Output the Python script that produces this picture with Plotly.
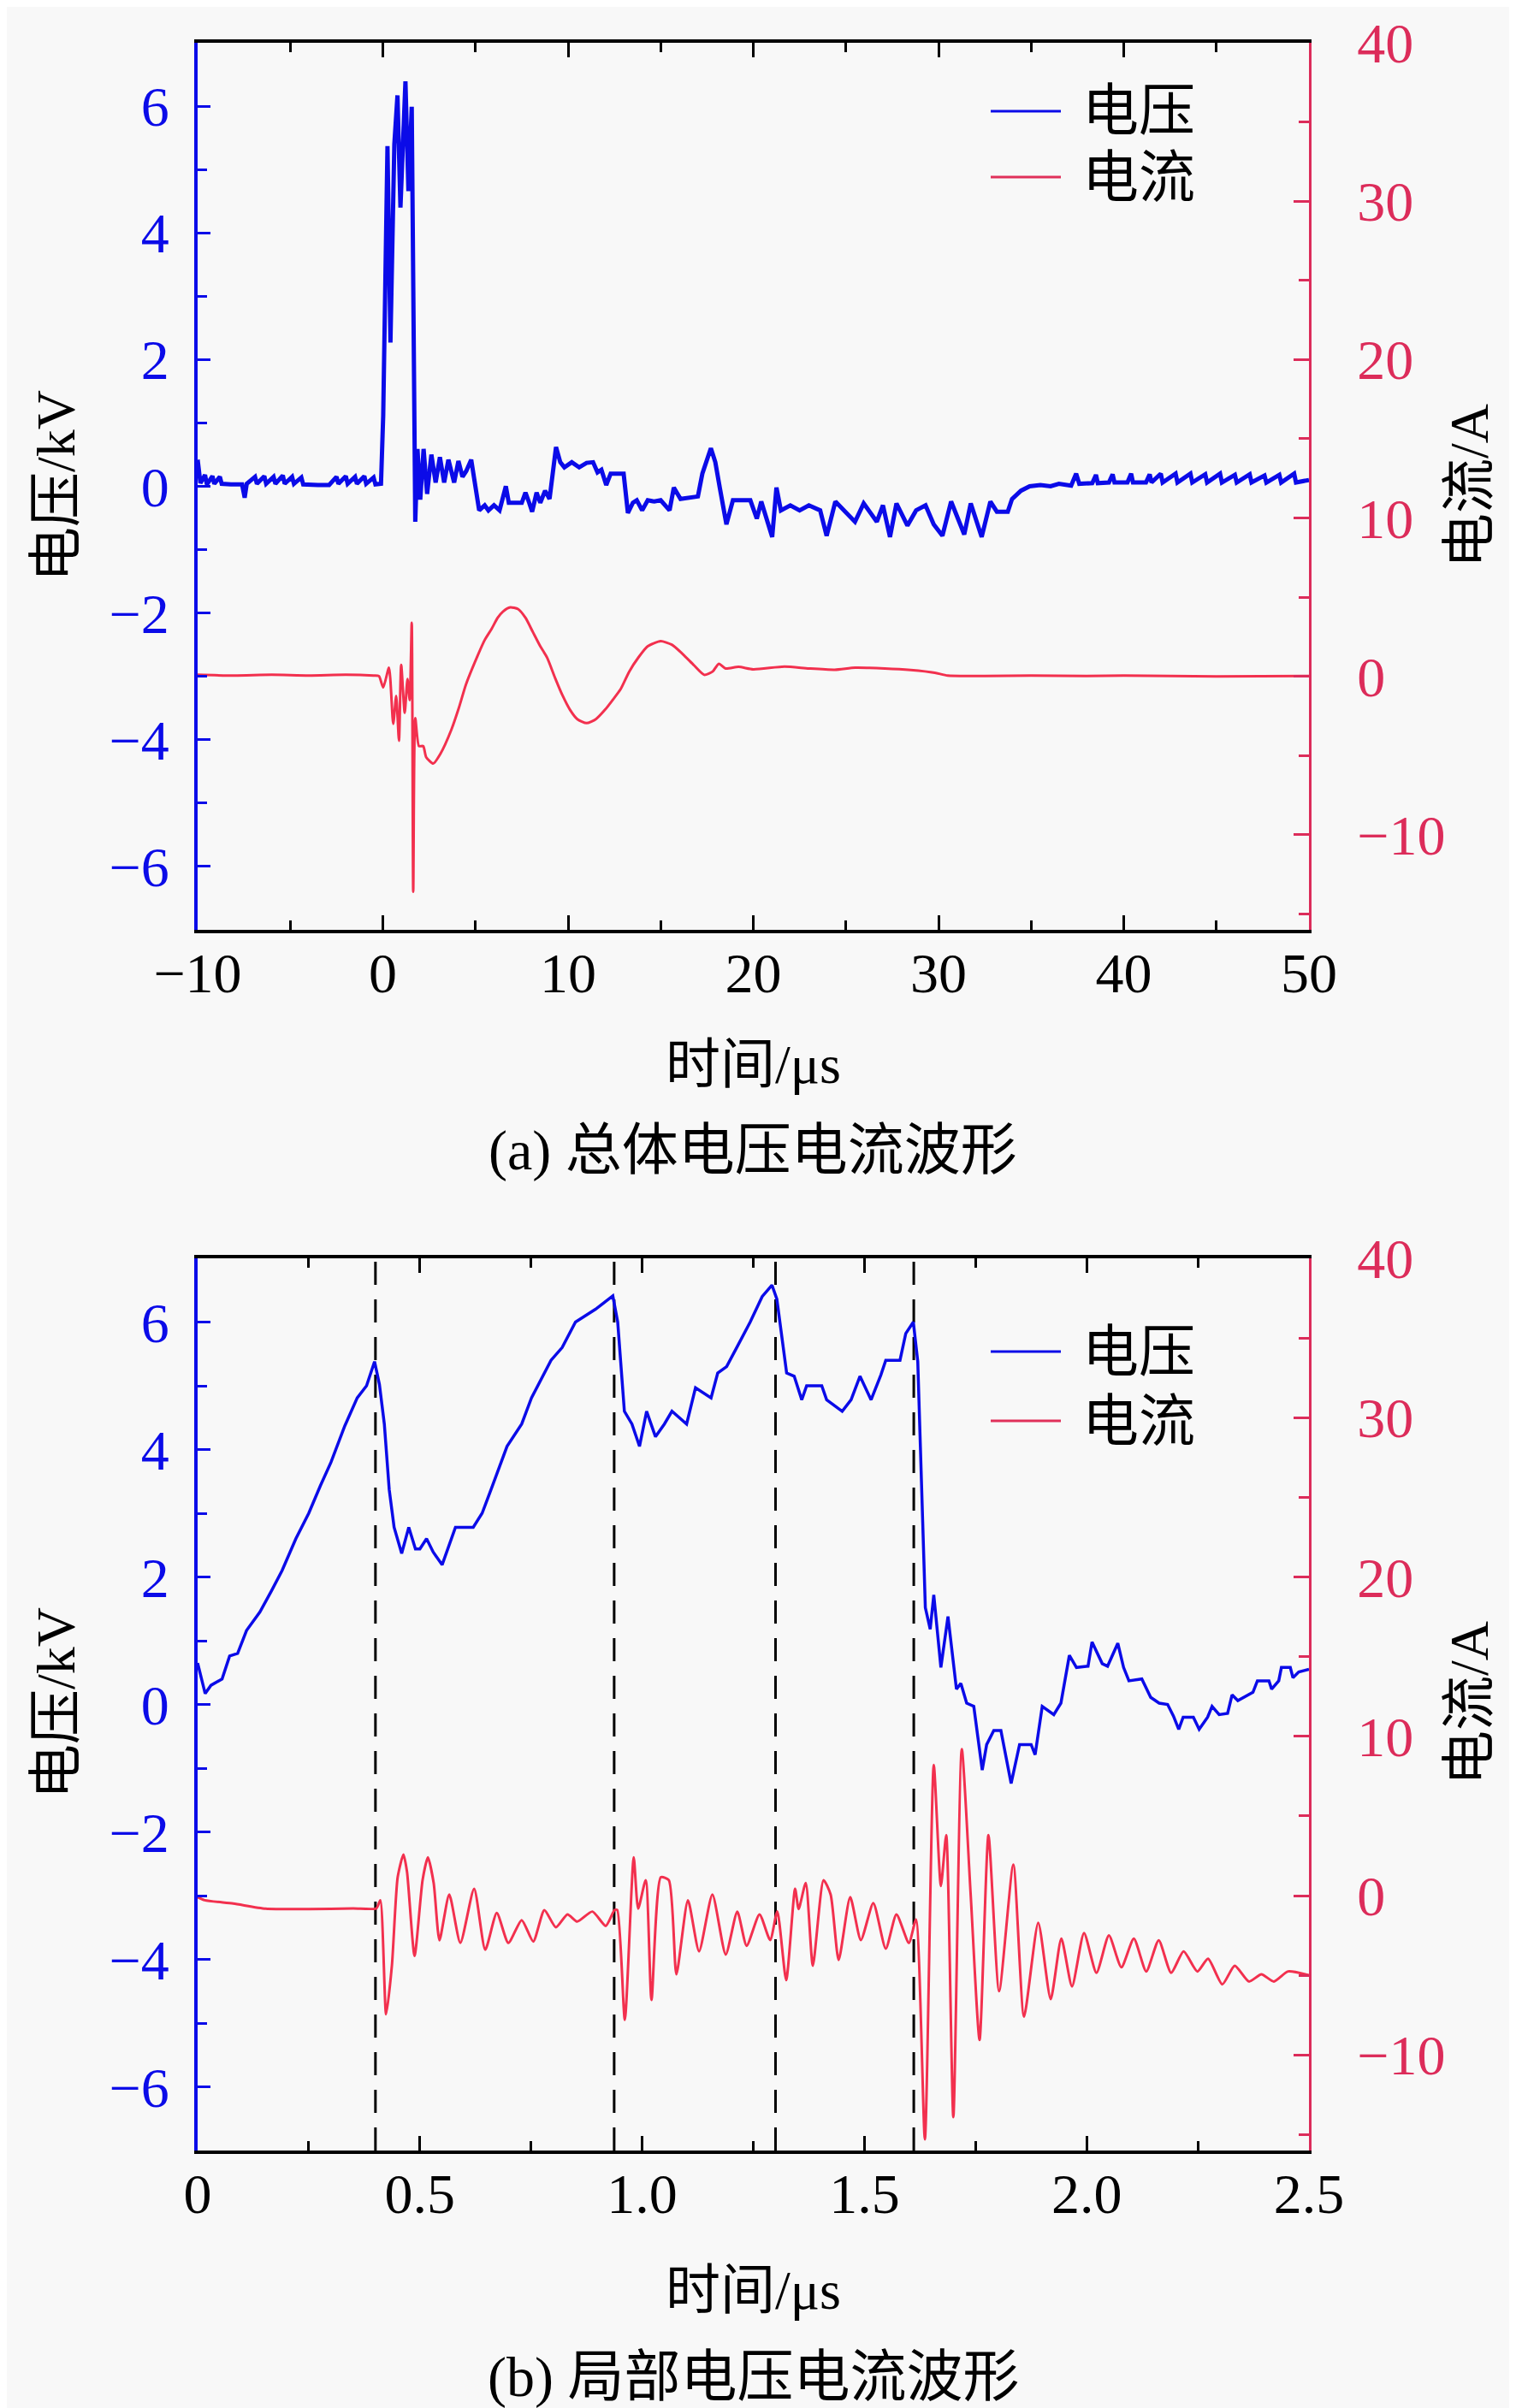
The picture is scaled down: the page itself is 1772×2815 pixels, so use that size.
import plotly.graph_objects as go

# ---- panel (a): overall waveform, time in us ----
t_a_volt = [
    -10.0, -9.85, -9.6, -9.5, -9.2, -9.1, -8.8, -8.7, -8.2, -7.6, -7.46, -7.35,
    -6.9, -6.8, -6.4, -6.3, -5.9, -5.8, -5.4, -5.3, -4.9, -4.8, -4.4, -4.3,
    -3.5, -2.9, -2.5, -2.4, -2.0, -1.9, -1.5, -1.4, -1.0, -0.9, -0.5, -0.4,
    -0.1, 0.02, 0.25, 0.41, 0.62, 0.79, 0.95, 1.22, 1.38, 1.56, 1.75, 1.87,
    2.02, 2.2, 2.39, 2.62, 2.85, 3.08, 3.31, 3.54, 3.85, 4.08, 4.3, 4.5,
    4.77, 5.0, 5.2, 5.5, 5.7, 6.0, 6.3, 6.64, 6.8, 7.5, 7.7, 7.9,
    8.06, 8.3, 8.5, 8.76, 9.0, 9.35, 9.58, 9.8, 10.2, 10.6, 11.0, 11.35,
    11.59, 11.8, 12.06, 12.3, 13.0, 13.23, 13.5, 13.71, 14.0, 14.3, 14.65, 15.0,
    15.48, 15.71, 16.07, 17.01, 17.25, 17.71, 17.95, 18.19, 18.55, 18.9, 19.84, 20.19,
    20.43, 21.02, 21.25, 21.49, 22.0, 22.5, 23.0, 23.61, 23.96, 24.43, 25.0, 25.49,
    25.96, 26.3, 26.67, 27.0, 27.38, 27.73, 28.32, 28.79, 29.3, 29.74, 30.21, 30.68,
    31.39, 31.74, 32.33, 32.8, 33.15, 33.74, 33.97, 34.45, 34.92, 35.5, 36.05, 36.5,
    37.16, 37.43, 37.6, 38.3, 38.5, 38.6, 39.2, 39.4, 39.5, 40.2, 40.4, 40.5,
    41.2, 41.4, 41.5, 42.0, 42.1, 42.8, 42.9, 43.6, 43.7, 44.4, 44.5, 45.2,
    45.3, 46.0, 46.1, 46.8, 46.9, 47.6, 47.7, 48.4, 48.5, 49.2, 49.3, 50.0,
]
volt_a = [
    0.42, 0.05, 0.18, 0.03, 0.16, 0.04, 0.15, 0.04, 0.03, 0.03, -0.18, 0.04,
    0.15, 0.04, 0.16, 0.04, 0.15, 0.04, 0.17, 0.04, 0.15, 0.04, 0.14, 0.03,
    0.02, 0.02, 0.15, 0.04, 0.16, 0.04, 0.15, 0.04, 0.16, 0.04, 0.14, 0.03,
    0.04, 1.12, 5.37, 2.27, 5.4, 6.17, 4.4, 6.39, 4.66, 5.99, -0.56, 0.59,
    -0.21, 0.59, -0.12, 0.5, 0.06, 0.46, 0.06, 0.42, 0.06, 0.4, 0.15, 0.24,
    0.42, -0.03, -0.38, -0.3, -0.38, -0.3, -0.38, 0.0, -0.26, -0.26, -0.1, -0.26,
    -0.4, -0.1, -0.26, -0.07, -0.2, 0.62, 0.38, 0.3, 0.38, 0.3, 0.37, 0.38,
    0.22, 0.26, 0.02, 0.2, 0.2, -0.42, -0.26, -0.22, -0.38, -0.22, -0.24, -0.22,
    -0.38, -0.02, -0.2, -0.16, 0.2, 0.6, 0.38, -0.02, -0.6, -0.22, -0.22, -0.51,
    -0.24, -0.8, -0.02, -0.38, -0.3, -0.38, -0.3, -0.38, -0.78, -0.24, -0.4, -0.56,
    -0.27, -0.4, -0.56, -0.3, -0.8, -0.27, -0.62, -0.38, -0.3, -0.6, -0.78, -0.24,
    -0.76, -0.27, -0.8, -0.24, -0.4, -0.4, -0.2, -0.07, 0.0, 0.02, 0.0, 0.04,
    0.01, 0.2, 0.04, 0.05, 0.18, 0.05, 0.06, 0.19, 0.06, 0.06, 0.2, 0.06,
    0.06, 0.19, 0.06, 0.2, 0.06, 0.2, 0.06, 0.2, 0.06, 0.19, 0.06, 0.2,
    0.06, 0.18, 0.06, 0.19, 0.06, 0.17, 0.06, 0.18, 0.06, 0.2, 0.06, 0.1,
]

t_a_curr = [
    -10.0, -8.0, -6.0, -4.0, -2.0, -0.5, -0.21, 0.02, 0.33, 0.56, 0.72, 0.87,
    0.99, 1.18, 1.33, 1.45, 1.56, 1.64, 1.75, 1.95, 2.18, 2.34, 2.72, 3.1,
    3.7, 4.1, 4.49, 5.1, 5.5, 5.87, 6.2, 6.49, 6.88, 7.3, 7.7, 8.1,
    8.5, 8.87, 9.3, 9.7, 10.1, 10.5, 11.0, 11.5, 12.0, 12.4, 12.84, 13.3,
    13.8, 14.3, 15.0, 15.6, 16.2, 16.8, 17.35, 17.8, 18.14, 18.5, 19.2, 20.0,
    21.68, 23.0, 24.4, 25.5, 27.1, 28.5, 29.8, 30.5, 32.5, 35.0, 37.97, 40.0,
    45.0, 50.0,
]
curr_a = [
    0.1, 0.05, 0.1, 0.05, 0.1, 0.05, 0.02, -0.7, 0.55, -3.0, -1.23, -4.06,
    0.73, -2.3, -0.17, -1.5, 3.38, -13.6, -2.64, -4.4, -4.4, -5.1, -5.5, -4.9,
    -3.36, -2.0, -0.5, 1.26, 2.3, 3.0, 3.7, 4.1, 4.36, 4.25, 3.7, 2.8,
    1.9, 1.18, -0.1, -1.2, -2.1, -2.7, -2.95, -2.7, -2.1, -1.5, -0.8, 0.3,
    1.2, 1.9, 2.22, 2.0, 1.4, 0.7, 0.1, 0.3, 0.8, 0.5, 0.6, 0.45,
    0.62, 0.5, 0.42, 0.55, 0.5, 0.4, 0.23, 0.05, 0.03, 0.05, 0.03, 0.05,
    0.0, 0.03,
]

# ---- panel (b): zoom on the first 2.5 us ----
t_b_volt = [
    0.0, 0.017, 0.03, 0.055, 0.072, 0.09, 0.11, 0.14, 0.166, 0.19, 0.221, 0.25,
    0.276, 0.3, 0.331, 0.359, 0.38, 0.398, 0.409, 0.42, 0.431, 0.442, 0.459, 0.475,
    0.49, 0.5, 0.515, 0.53, 0.55, 0.565, 0.58, 0.62, 0.64, 0.66, 0.696, 0.729,
    0.751, 0.795, 0.82, 0.85, 0.895, 0.934, 0.945, 0.96, 0.977, 0.994, 1.01, 1.03,
    1.05, 1.067, 1.1, 1.12, 1.155, 1.17, 1.19, 1.215, 1.243, 1.27, 1.292, 1.303,
    1.325, 1.342, 1.359, 1.37, 1.404, 1.415, 1.45, 1.47, 1.49, 1.515, 1.537, 1.548,
    1.58, 1.593, 1.61, 1.62, 1.63, 1.637, 1.648, 1.656, 1.672, 1.688, 1.707, 1.717,
    1.73, 1.746, 1.765, 1.775, 1.791, 1.807, 1.83, 1.849, 1.875, 1.884, 1.9, 1.926,
    1.942, 1.961, 1.977, 2.003, 2.012, 2.035, 2.047, 2.07, 2.083, 2.095, 2.124, 2.144,
    2.163, 2.182, 2.195, 2.207, 2.217, 2.24, 2.253, 2.272, 2.282, 2.298, 2.317, 2.327,
    2.34, 2.374, 2.384, 2.41, 2.416, 2.432, 2.438, 2.458, 2.464, 2.477, 2.5,
]
volt_b = [
    0.65, 0.17, 0.3, 0.4, 0.76, 0.8, 1.16, 1.45, 1.78, 2.1, 2.6, 3.0,
    3.43, 3.8, 4.37, 4.81, 5.0, 5.38, 5.02, 4.4, 3.37, 2.78, 2.37, 2.78,
    2.44, 2.44, 2.6, 2.39, 2.19, 2.5, 2.78, 2.78, 3.0, 3.37, 4.05, 4.4,
    4.81, 5.4, 5.6, 6.0, 6.2, 6.41, 6.0, 4.6, 4.4, 4.05, 4.6, 4.2,
    4.4, 4.6, 4.4, 4.97, 4.81, 5.2, 5.3, 5.63, 6.0, 6.4, 6.58, 6.36,
    5.2, 5.15, 4.78, 5.0, 5.0, 4.78, 4.6, 4.78, 5.15, 4.78, 5.17, 5.4,
    5.4, 5.82, 6.0, 5.38, 3.15, 1.52, 1.18, 1.72, 0.58, 1.38, 0.24, 0.33,
    0.02, -0.03, -1.03, -0.63, -0.41, -0.41, -1.24, -0.63, -0.63, -0.79, -0.03, -0.16,
    0.02, 0.77, 0.58, 0.6, 0.98, 0.64, 0.6, 0.96, 0.58, 0.37, 0.4, 0.11,
    0.02, 0.0, -0.18, -0.39, -0.2, -0.2, -0.39, -0.2, -0.03, -0.16, -0.14, 0.15,
    0.06, 0.19, 0.37, 0.37, 0.24, 0.37, 0.58, 0.58, 0.42, 0.51, 0.55,
]

t_b_curr = [
    0.0, 0.016, 0.08, 0.153, 0.25, 0.35, 0.402, 0.411, 0.424, 0.437, 0.45, 0.463,
    0.471, 0.488, 0.506, 0.518, 0.531, 0.544, 0.566, 0.591, 0.622, 0.647, 0.673, 0.699,
    0.729, 0.755, 0.78, 0.806, 0.832, 0.854, 0.888, 0.918, 0.938, 0.944, 0.961, 0.981,
    0.991, 1.008, 1.021, 1.042, 1.06, 1.077, 1.103, 1.128, 1.158, 1.188, 1.214, 1.235,
    1.264, 1.288, 1.304, 1.324, 1.344, 1.352, 1.368, 1.384, 1.408, 1.424, 1.442, 1.468,
    1.492, 1.52, 1.548, 1.572, 1.6, 1.616, 1.636, 1.656, 1.672, 1.684, 1.7, 1.719,
    1.739, 1.759, 1.779, 1.803, 1.835, 1.859, 1.891, 1.919, 1.943, 1.967, 1.994, 2.022,
    2.05, 2.078, 2.106, 2.134, 2.162, 2.19, 2.218, 2.249, 2.273, 2.305, 2.333, 2.365,
    2.393, 2.421, 2.453, 2.5,
]
curr_b = [
    -0.1, -0.29, -0.5, -0.82, -0.85, -0.8, -0.8, -0.29, -7.45, -4.4, 1.15, 2.58,
    1.5, -3.78, 0.97, 2.4, 0.79, -2.8, 0.07, -2.97, 0.43, -3.4, -1.09, -2.97,
    -1.54, -2.88, -0.91, -1.99, -1.18, -1.63, -1.0, -1.9, -0.9, -0.9, -7.8, 2.4,
    -0.82, 0.97, -6.55, 1.15, 0.97, -4.94, -0.29, -3.5, 0.07, -3.7, -1.0, -3.15,
    -1.18, -2.79, -0.99, -5.3, 0.43, -0.84, 0.79, -4.4, 0.97, 0.07, -4.04, -0.1,
    -2.79, -0.47, -3.33, -1.18, -2.97, -1.5, -15.3, 8.2, 0.6, 3.8, -13.9, 9.2,
    0.07, -9.06, 3.8, -6.0, 1.95, -7.6, -1.7, -6.5, -2.7, -5.7, -2.35, -4.85,
    -2.5, -4.5, -2.7, -4.76, -2.8, -4.85, -3.5, -4.76, -3.96, -5.57, -4.4, -5.39,
    -4.94, -5.39, -4.76, -5.0,
]
break_times = [0.40, 0.937, 1.30, 1.611]

x_ticks_b = [0, 0.5, 1.0, 1.5, 2.0, 2.5]
x_labels_b = ["0", "0.5", "1.0", "1.5", "2.0", "2.5"]

FONT = "Liberation Serif, Noto Sans CJK SC, serif"
BLUE = "#0b0be8"
RED_AX = "#dc2c5a"
CURR = "#f2304e"
BG = "#f8f8f8"
TICK_SIZE = 66
TITLE_SIZE = 64

fig = go.Figure()
fig.add_trace(go.Scatter(x=t_a_volt, y=volt_a, mode="lines", xaxis="x", yaxis="y",
                         line=dict(color=BLUE, width=5), showlegend=False))
fig.add_trace(go.Scatter(x=t_a_curr, y=curr_a, mode="lines", xaxis="x", yaxis="y2",
                         line=dict(color=CURR, width=3, shape="spline", smoothing=0.6),
                         showlegend=False))
fig.add_trace(go.Scatter(x=t_b_volt, y=volt_b, mode="lines", xaxis="x2", yaxis="y3",
                         line=dict(color=BLUE, width=3.5), showlegend=False))
fig.add_trace(go.Scatter(x=t_b_curr, y=curr_b, mode="lines", xaxis="x2", yaxis="y4",
                         line=dict(color=CURR, width=3, shape="spline", smoothing=0.6),
                         showlegend=False))

W = 1772.0
H = 2815.0
X_DOM = [223 / W, 1522 / W]
DOM_A = [1 - 1079 / H, 1 - 42 / H]
DOM_B = [1 - 2506 / H, 1 - 1463 / H]


def x_axis(anchor, **kw):
    return dict(domain=X_DOM, anchor=anchor, automargin=False, showgrid=False,
                zeroline=False, showline=True, linecolor="black", linewidth=4,
                mirror="ticks", ticks="inside", ticklen=17, tickwidth=3, tickcolor="black",
                minor=dict(ticks="inside", ticklen=11, tickwidth=3, tickcolor="black"),
                tickfont=dict(family=FONT, size=TICK_SIZE, color="black"),
                ticklabelstandoff=-10, ticklabeloverflow="allow", **kw)


def volt_axis(domain, anchor):
    return dict(domain=domain, anchor=anchor, automargin=False, range=[-7, 7], dtick=2,
                showgrid=False, zeroline=False, showline=True, linecolor=BLUE, linewidth=4,
                ticks="inside", ticklen=15, tickwidth=3, tickcolor=BLUE,
                minor=dict(ticks="inside", ticklen=11, tickwidth=3, tickcolor=BLUE, dtick=1),
                tickfont=dict(family=FONT, size=TICK_SIZE, color=BLUE),
                ticklabelstandoff=16, ticklabeloverflow="allow")


def curr_axis(overlay, anchor):
    return dict(overlaying=overlay, anchor=anchor, side="right", automargin=False,
                range=[-16, 40], dtick=10, showgrid=False, zeroline=False, showline=True,
                linecolor=RED_AX, linewidth=3, ticks="inside", ticklen=18, tickwidth=3,
                tickcolor=RED_AX,
                minor=dict(ticks="inside", ticklen=12, tickwidth=3, tickcolor=RED_AX, dtick=5),
                tickfont=dict(family=FONT, size=TICK_SIZE, color=RED_AX),
                ticklabelstandoff=40, ticklabeloverflow="allow")


fig.update_layout(
    width=1772, height=2815,
    margin=dict(l=0, r=0, t=0, b=0),
    paper_bgcolor=BG, plot_bgcolor=BG,
    font=dict(family=FONT, size=TITLE_SIZE, color="black"),
    showlegend=False,
    xaxis=x_axis("y", range=[-10, 50], dtick=10, minor_dtick=5),
    yaxis=volt_axis(DOM_A, "x"),
    yaxis2=curr_axis("y", "x"),
    xaxis2=x_axis("y3", range=[0, 2.5], tickvals=x_ticks_b, ticktext=x_labels_b,
                  minor_dtick=0.25),
    yaxis3=volt_axis(DOM_B, "x2"),
    yaxis4=curr_axis("y3", "x2"),
)

# dashed markers for the breakdown instants in panel (b)
for tb in break_times:
    fig.add_shape(type="line", xref="x2", yref="y3 domain", x0=tb, x1=tb, y0=0, y1=1,
                  line=dict(color="black", width=3, dash="27px,17px"), layer="below")


def py(y_px):
    return 1 - y_px / H


def px(x_px):
    return x_px / W


annos = []
panel_text = [
    # y centre of axis titles, x-title y, caption y, caption text
    (560, 1237, 1337, "(a) 总体电压电流波形"),
    (1983, 2669, 2771, "(b) 局部电压电流波形"),
]
for yc, xt, cy, cap in panel_text:
    annos.append(dict(text="电压/kV", x=px(57), y=py(yc), textangle=-90))
    annos.append(dict(text="电流/A", x=px(1709), y=py(yc), textangle=-90))
    annos.append(dict(text="时间/μs", x=px(872), y=py(xt)))
    annos.append(dict(text=cap, x=px(872), y=py(cy), size=66))

# legends drawn by hand (long sample lines, as in the original)
legend_rows = [(122, 199), (1572, 1653)]
for r1, r2 in legend_rows:
    for yy, name, col in [(r1, "电压", BLUE), (r2, "电流", "#e0305a")]:
        fig.add_shape(type="line", xref="paper", yref="paper",
                      x0=px(1150), x1=px(1232), y0=py(yy), y1=py(yy),
                      line=dict(color=col, width=3))
        annos.append(dict(text=name, x=px(1255), y=py(yy), xanchor="left", size=66))

for a in annos:
    a.setdefault("xanchor", "center")
    size = a.pop("size", TITLE_SIZE)
    fig.add_annotation(xref="paper", yref="paper", showarrow=False, yanchor="middle",
                       font=dict(family=FONT, size=size, color="black"), **a)

fig.write_html("out.html")
